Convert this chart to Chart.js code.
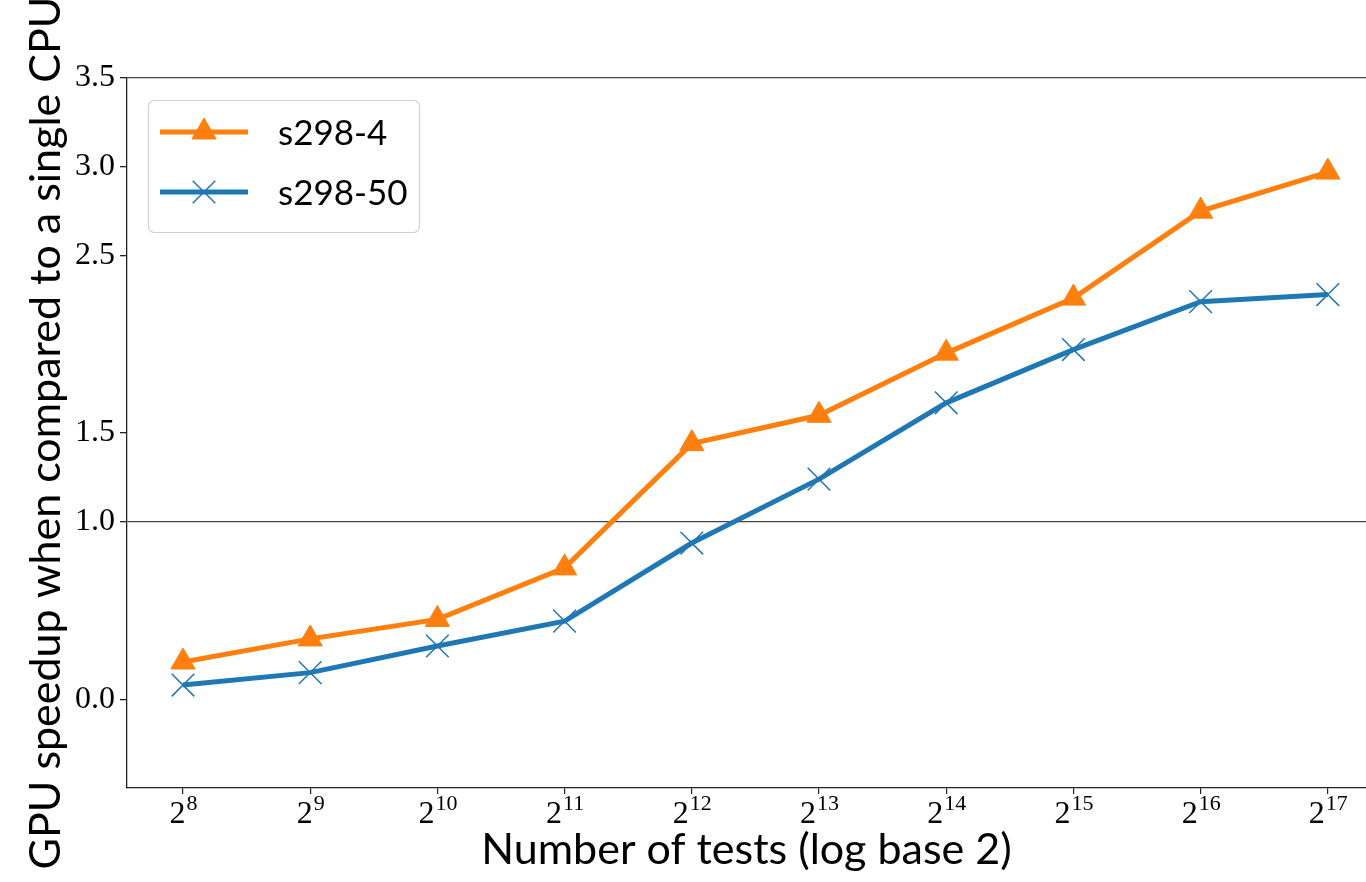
<!DOCTYPE html>
<html><head><meta charset="utf-8">
<script src="https://cdn.jsdelivr.net/npm/chart.js@4.4.1/dist/chart.umd.min.js"></script>
<style>html,body{margin:0;padding:0;background:#fff;overflow:hidden}#wrap{width:1366px;height:882px}</style>
</head><body><div id="wrap"><canvas id="c"></canvas></div>
<script>
// ---- data ----
const exponents = [8, 9, 10, 11, 12, 13, 14, 15, 16, 17];
const s298_4 = [0.21, 0.34, 0.45, 0.74, 1.44, 1.60, 1.95, 2.26, 2.75, 2.97];
const s298_50 = [0.08, 0.15, 0.30, 0.44, 0.88, 1.24, 1.67, 1.97, 2.24, 2.28];
const yTickValues = [0.0, 1.0, 1.5, 2.5, 3.0, 3.5];
const xTickBase = '2';
const seriesNames = ['s298-4', 's298-50'];
const xTitle = 'Number of tests (log base 2)';
const yTitle = 'GPU speedup when compared to a single CPU';

const ORANGE = '#ff7f0e', BLUE = '#1f77b4';
const SERIF = '"Liberation Serif", "DejaVu Serif", serif';
const SANS = 'Lato, "Open Sans", sans-serif';

const xTickPlugin = {
  id: 'xTickPlugin',
  afterDraw(chart) {
    const sx = chart.scales.x, ctx = chart.ctx;
    ctx.save();
    ctx.fillStyle = '#000';
    ctx.textBaseline = 'alphabetic';
    ctx.textAlign = 'left';
    exponents.forEach(e => {
      const px = sx.getPixelForValue(e);
      ctx.font = '32px ' + SERIF;
      const w2 = ctx.measureText(xTickBase).width;
      ctx.font = '22px ' + SERIF;
      const we = ctx.measureText(String(e)).width;
      const x0 = px - (w2 + we) / 2;
      ctx.font = '32px ' + SERIF;
      ctx.fillText(xTickBase, x0, sx.top + 35);
      ctx.font = '22px ' + SERIF;
      ctx.fillText(String(e), x0 + w2 + 1, sx.top + 22);
    });
    ctx.restore();
  }
};

const legendPlugin = {
  id: 'boxLegend',
  afterDatasetsDraw(chart) {
    const ctx = chart.ctx;
    const bx = 148, by = 100, bw = 271, bh = 132, r = 6;
    ctx.save();
    ctx.beginPath();
    ctx.roundRect(bx + 0.5, by + 0.5, bw, bh, r);
    ctx.fillStyle = 'rgba(255,255,255,0.8)';
    ctx.fill();
    ctx.strokeStyle = '#d0d0d0';
    ctx.lineWidth = 1.2;
    ctx.stroke();
    chart.data.datasets.forEach((ds, i) => {
      const cy = 132 + i * 60;
      ctx.beginPath();
      ctx.moveTo(160, cy);
      ctx.lineTo(248, cy);
      ctx.strokeStyle = ds.borderColor;
      ctx.lineWidth = ds.borderWidth;
      ctx.lineCap = 'butt';
      ctx.stroke();
      ctx.fillStyle = ds.pointBackgroundColor;
      ctx.strokeStyle = ds.pointBorderColor;
      ctx.lineWidth = ds.pointBorderWidth;
      Chart.helpers.drawPoint(ctx, {pointStyle: ds.pointStyle, radius: ds.pointRadius, borderWidth: ds.pointBorderWidth, rotation: 0}, 204, cy);
      ctx.fillStyle = '#000';
      ctx.font = '35px ' + SANS;
      ctx.textBaseline = 'middle';
      ctx.textAlign = 'left';
      ctx.fillText(ds.label, 278, cy + 2);
    });
    ctx.restore();
  }
};

new Chart(document.getElementById('c'), {
  type: 'line',
  data: {
    datasets: [
      {
        label: seriesNames[0],
        data: exponents.map((e, i) => ({x: e, y: s298_4[i]})),
        borderColor: ORANGE, backgroundColor: ORANGE,
        borderWidth: 5, pointStyle: 'triangle', pointRadius: 14,
        pointBackgroundColor: ORANGE, pointBorderColor: ORANGE, pointBorderWidth: 1,
        order: 1, tension: 0
      },
      {
        label: seriesNames[1],
        data: exponents.map((e, i) => ({x: e, y: s298_50[i]})),
        borderColor: BLUE, backgroundColor: BLUE,
        borderWidth: 5, pointStyle: 'crossRot', pointRadius: 16,
        pointBackgroundColor: BLUE, pointBorderColor: BLUE, pointBorderWidth: 1.5,
        order: 0, tension: 0
      }
    ]
  },
  options: {
    responsive: true, maintainAspectRatio: false, animation: false,
    devicePixelRatio: 1,
    layout: {autoPadding: false, padding: {top: 78, left: 0, right: 0, bottom: 0}},
    plugins: {legend: {display: false}, tooltip: {enabled: false}},
    elements: {point: {hoverRadius: 14}},
    scales: {
      x: {
        type: 'linear', min: 7.56, max: 17.30,
        afterBuildTicks: s => { s.ticks = exponents.map(v => ({value: v})); },
        afterFit: s => { s.height = 94; },
        ticks: {callback: () => '', font: {size: 32, family: SERIF}},
        grid: {color: 'rgba(0,0,0,0)', tickColor: '#222', tickLength: 6, lineWidth: 1.2},
        border: {display: true, color: '#222', width: 1.3},
        title: {display: true, text: xTitle, color: '#000', font: {size: 43, family: SANS}, padding: {top: 0, bottom: 6}}
      },
      y: {
        type: 'linear', min: -0.5, max: 3.5,
        afterBuildTicks: s => { s.ticks = yTickValues.map(v => ({value: v})); },
        afterFit: s => { s.width = 127; },
        ticks: {callback: v => Number(v).toFixed(1), color: '#000', font: {size: 32, family: SERIF}, padding: 5},
        grid: {
          color: c => (c.tick && (c.tick.value === 1 || c.tick.value === 3.5)) ? '#444' : 'rgba(0,0,0,0)',
          tickColor: '#222', tickLength: 7, lineWidth: 1.3
        },
        border: {display: true, color: '#222', width: 1.3},
        title: {display: true, text: yTitle, color: '#000', font: {size: 43, family: SANS}, padding: {top: 20, bottom: 0}}
      }
    }
  },
  plugins: [xTickPlugin, legendPlugin]
});
</script></body></html>
